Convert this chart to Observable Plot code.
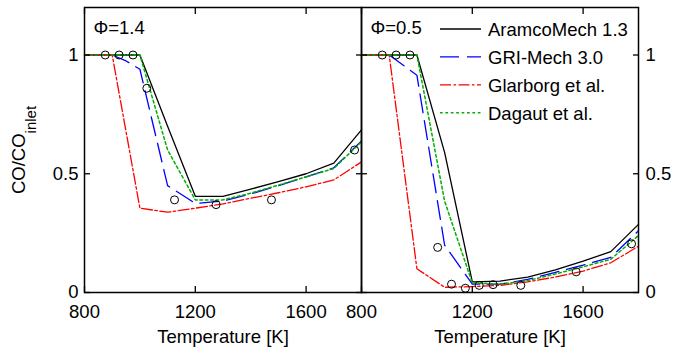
<!DOCTYPE html>
<html>
<head>
<meta charset="utf-8">
<script src="https://cdn.jsdelivr.net/npm/d3@7"></script>
<script src="https://cdn.jsdelivr.net/npm/@observablehq/plot@0.6"></script>
<style>
  html, body { margin: 0; padding: 0; background: #fff; }
  #chart { width: 673px; height: 353px; }
</style>
</head>
<body>
<div id="chart"></div>
<script>
// ---------- data ----------
const panels = ["1.4", "0.5"];
const panelLabels = ["\u03A6=1.4", "\u03A6=0.5"];
const seriesNames = ["AramcoMech 1.3", "GRI-Mech 3.0", "Glarborg et al.", "Dagaut et al."];
const yTitleMain = "CO/CO";
const yTitleSub = "inlet";
const xTitle = "Temperature [K]";

const modelT = [800, 900, 1000, 1100, 1200, 1300, 1400, 1500, 1600, 1700, 1800];
const griT14 = [800, 900, 950, 1000, 1100, 1200, 1300, 1400, 1500, 1600, 1700, 1800];

// Phi = 1.4
const aramco14 = [1, 1, 1, 0.70, 0.405, 0.405, 0.435, 0.467, 0.50, 0.545, 0.685];
const gri14    = [1, 1, 0.975, 0.94, 0.45, 0.375, 0.385, 0.415, 0.45, 0.487, 0.525, 0.638];
const glar14   = [1, 1, 0.355, 0.338, 0.355, 0.373, 0.397, 0.42, 0.445, 0.474, 0.55];
const dag14    = [1, 1, 1, 0.60, 0.39, 0.39, 0.418, 0.452, 0.487, 0.522, 0.635];
const expT14   = [875, 925, 975, 1025, 1125, 1275, 1475, 1775];
const exp14    = [1, 1, 1, 0.86, 0.39, 0.37, 0.39, 0.60];

// Phi = 0.5
const aramco05 = [1, 1, 1, 0.59, 0.045, 0.048, 0.065, 0.095, 0.132, 0.172, 0.287];
const gri05    = [1, 1, 0.915, 0.20, 0.035, 0.035, 0.055, 0.085, 0.115, 0.148, 0.26];
const glar05   = [1, 1, 0.10, 0.022, 0.025, 0.03, 0.045, 0.065, 0.09, 0.125, 0.195];
const dag05    = [1, 1, 1, 0.385, 0.04, 0.035, 0.05, 0.078, 0.108, 0.14, 0.24];
const expT05   = [875, 925, 975, 1075, 1125, 1175, 1225, 1275, 1375, 1575, 1775];
const exp05    = [1, 1, 1, 0.19, 0.035, 0.018, 0.03, 0.033, 0.03, 0.087, 0.205];

const xTicks = [800, 1200, 1600];
const yTicks = [0, 0.5, 1];

// ---------- tables ----------
const colors = ["#000000", "#0000ff", "#ff0000", "#00b000"];
const dashes = [null, "19,8", "11,2.5,2.5,2.5", "2.7,2.7"];
const widths = [1.3, 1.3, 1.3, 1.5];

const modelRows = [];
function addSeries(phi, name, Ts, vs) {
  Ts.forEach((T, i) => modelRows.push({phi, series: name, T, v: vs[i]}));
}
addSeries("1.4", seriesNames[0], modelT, aramco14);
addSeries("1.4", seriesNames[1], griT14, gri14);
addSeries("1.4", seriesNames[2], modelT, glar14);
addSeries("1.4", seriesNames[3], modelT, dag14);
addSeries("0.5", seriesNames[0], modelT, aramco05);
addSeries("0.5", seriesNames[1], modelT, gri05);
addSeries("0.5", seriesNames[2], modelT, glar05);
addSeries("0.5", seriesNames[3], modelT, dag05);

const expRows = [
  ...expT14.map((T, i) => ({phi: "1.4", T, v: exp14[i]})),
  ...expT05.map((T, i) => ({phi: "0.5", T, v: exp05[i]}))
];
const panelRows = panels.map((p, i) => ({phi: p, label: panelLabels[i]}));

const fmtY = d => String(d);
const font = "'Liberation Sans', Arial, Helvetica, sans-serif";
const fs = 18.5;

const lineMarks = seriesNames.map((name, i) =>
  Plot.line(modelRows.filter(d => d.series === name), {
    x: "T", y: "v", fx: "phi",
    stroke: colors[i], strokeWidth: widths[i],
    strokeDasharray: dashes[i] || undefined
  })
);

const chart = Plot.plot({
  width: 673,
  height: 353,
  marginLeft: 83,
  marginRight: 35,
  marginTop: 7,
  marginBottom: 61,
  style: {fontFamily: font, fontSize: fs + "px", color: "#000", background: "#fff"},
  fx: {domain: panels, padding: 0, axis: null, label: null},
  x: {domain: [800, 1800], label: null},
  y: {domain: [0, 1.2], label: null},
  marks: [
    ...lineMarks,
    Plot.dot(expRows, {x: "T", y: "v", fx: "phi", r: 4, stroke: "#000", strokeWidth: 1, fill: "none"}),
    Plot.frame({stroke: "#000", strokeWidth: 1.5}),
    // axis labels (outside)
    Plot.axisX({anchor: "bottom", ticks: xTicks, tickSize: 0, tickPadding: 12, tickFormat: "d", label: null}),
    Plot.axisY({anchor: "left", ticks: yTicks, tickSize: 0, tickPadding: 6, tickFormat: fmtY, label: null}),
    Plot.axisY({anchor: "right", ticks: yTicks, tickSize: 0, tickPadding: 7, tickFormat: fmtY, label: null}),
    // inward ticks on every side of each panel
    Plot.axisX({anchor: "bottom", ticks: xTicks, tickSize: -6, fill: "none", label: null, strokeWidth: 1.3}),
    Plot.axisX({anchor: "top", ticks: xTicks, tickSize: -6, fill: "none", label: null, strokeWidth: 1.3}),
    Plot.axisY({anchor: "left", ticks: yTicks, tickSize: -6, fill: "none", label: null, facetAnchor: null, strokeWidth: 1.3}),
    Plot.axisY({anchor: "right", ticks: yTicks, tickSize: -6, fill: "none", label: null, facetAnchor: null, strokeWidth: 1.3}),
    // panel labels
    Plot.text(panelRows, {fx: "phi", text: "label", frameAnchor: "top-left", textAnchor: "start", lineAnchor: "top", dx: 9, dy: 13, fontSize: fs, fill: "#000"}),
    // x titles
    Plot.text(panelRows, {fx: "phi", text: () => xTitle, frameAnchor: "bottom", textAnchor: "middle", lineAnchor: "middle", dy: 45, fontSize: fs, fill: "#000"})
  ]
});

document.getElementById("chart").appendChild(chart);

const svg = d3.select(chart);

// y title with a real subscript
const yt = svg.append("text")
  .attr("transform", "translate(24.5,150) rotate(-90)")
  .attr("text-anchor", "middle")
  .attr("font-family", font)
  .attr("font-size", fs)
  .attr("fill", "#000");
yt.append("tspan").text(yTitleMain);
yt.append("tspan").attr("font-size", 15).attr("dy", 11.5).text(yTitleSub);

// legend (inside right panel)
const leg = svg.append("g")
  .attr("font-family", font).attr("font-size", fs)
  .attr("text-anchor", "start");
seriesNames.forEach((name, i) => {
  const y = 29 + i * 27.9;
  const ln = leg.append("line")
    .attr("x1", 440).attr("x2", 481).attr("y1", y).attr("y2", y)
    .attr("fill", "none")
    .style("stroke", colors[i]).style("stroke-width", widths[i]);
  if (dashes[i]) ln.style("stroke-dasharray", dashes[i]);
  leg.append("text").attr("x", 488).attr("y", y + 7)
    .attr("fill", "#000").attr("text-anchor", "start").text(name);
});
</script>
</body>
</html>
